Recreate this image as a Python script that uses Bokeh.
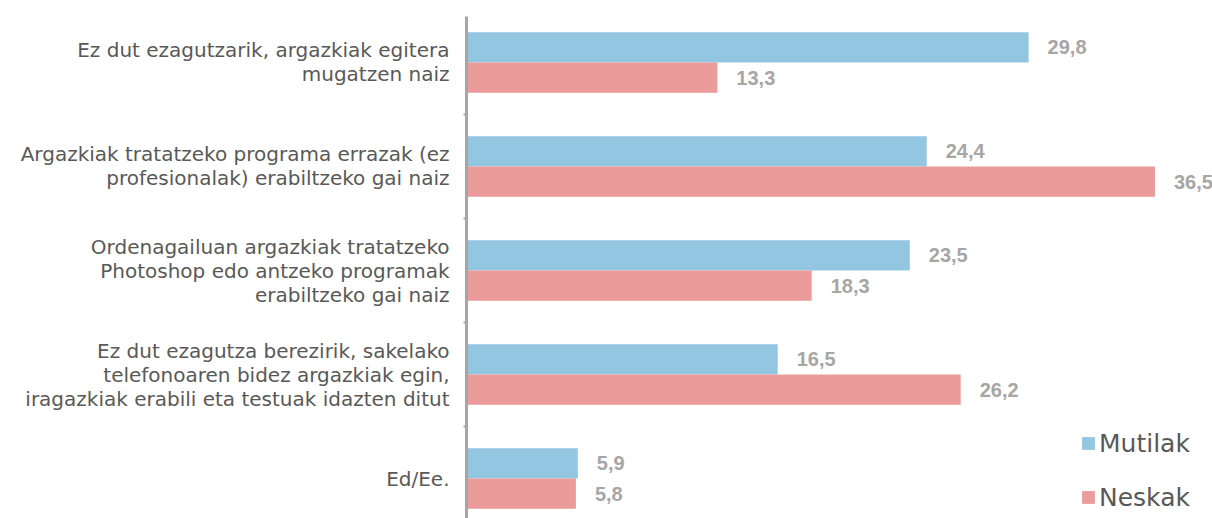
from bokeh.plotting import figure
from bokeh.models import (ColumnDataSource, Range1d, FixedTicker, LinearAxis,
                          Legend, LegendItem)
from bokeh.core.properties import value
from bokeh.embed import file_html
from bokeh.resources import INLINE

categories = [
    "Ez dut ezagutzarik, argazkiak egitera\nmugatzen naiz",
    "Argazkiak tratatzeko programa errazak (ez\nprofesionalak) erabiltzeko gai naiz",
    "Ordenagailuan argazkiak tratatzeko\nPhotoshop edo antzeko programak\nerabiltzeko gai naiz",
    "Ez dut ezagutza berezirik, sakelako\ntelefonoaren bidez argazkiak egin,\niragazkiak erabili eta testuak idazten ditut",
    "Ed/Ee.",
]
mutilak = [29.8, 24.4, 23.5, 16.5, 5.9]
neskak = [13.3, 36.5, 18.3, 26.2, 5.8]
series_names = ["Mutilak", "Neskak"]

BLUE = "#93C6E0"
PINK = "#EC9B9B"
TXT = "#595959"
VAL = "#A6A6A6"

pos = list(range(len(categories)))
off = 0.145
src_m = ColumnDataSource(dict(
    y=[p_ - off for p_ in pos], v=mutilak,
    lab=[f"{v:.1f}".replace(".", ",") for v in mutilak]))
src_n = ColumnDataSource(dict(
    y=[p_ + off for p_ in pos], v=neskak,
    lab=[f"{v:.1f}".replace(".", ",") for v in neskak]))

p = figure(width=1212, height=518, output_backend="svg", toolbar_location=None,
           x_range=Range1d(0, 39.55), y_range=Range1d(4.3846, -0.4423),
           min_border_left=466, min_border_right=0, min_border_top=16,
           min_border_bottom=0, outline_line_color=None)
p.xaxis.visible = False
p.xgrid.visible = False
p.ygrid.visible = False

r_m = p.hbar(y="y", right="v", left=0, height=0.29, source=src_m,
             fill_color=BLUE, line_color=None)
r_n = p.hbar(y="y", right="v", left=0, height=0.29, source=src_n,
             fill_color=PINK, line_color=None)

for src in (src_m, src_n):
    p.text(x="v", y="y", text="lab", source=src, x_offset=19,
           text_baseline="middle", text_align="left",
           text_font=value("Liberation Sans"), text_font_style="bold",
           text_font_size="20px", text_color=VAL)

# boundary ticks axis
ax = p.yaxis[0]
ax.ticker = FixedTicker(ticks=[0.5, 1.5, 2.5, 3.5])
ax.major_label_overrides = {0.5: "", 1.5: "", 2.5: "", 3.5: ""}
ax.major_label_standoff = 0
ax.major_label_text_font_size = "1px"
ax.major_tick_out = 3
ax.major_tick_in = 0
ax.minor_tick_out = 0
ax.minor_tick_in = 0
ax.axis_line_color = VAL
ax.axis_line_width = 3
ax.major_tick_line_color = VAL
ax.major_tick_line_width = 2

lab_axis = LinearAxis(ticker=FixedTicker(ticks=pos),
                      major_label_overrides={i: c for i, c in enumerate(categories)},
                      axis_line_color=None, major_tick_line_color=None,
                      minor_tick_line_color=None, major_label_standoff=8,
                      major_label_text_font="DejaVu Sans",
                      major_label_text_font_size="20px",
                      major_label_text_line_height=1.0,
                      major_label_text_color=TXT)
p.add_layout(lab_axis, "left")

legend = Legend(items=[LegendItem(label=series_names[0], renderers=[r_m]),
                       LegendItem(label=series_names[1], renderers=[r_n])],
                location=(614, 6), orientation="vertical",
                glyph_width=16, glyph_height=16, label_height=30,
                label_standoff=3, spacing=24, padding=0, margin=0,
                border_line_color=None, background_fill_alpha=0,
                label_text_font="DejaVu Sans", label_text_font_size="25px",
                label_text_color=TXT)
p.add_layout(legend, "center")

open("out.html", "w").write(file_html(p, INLINE))
